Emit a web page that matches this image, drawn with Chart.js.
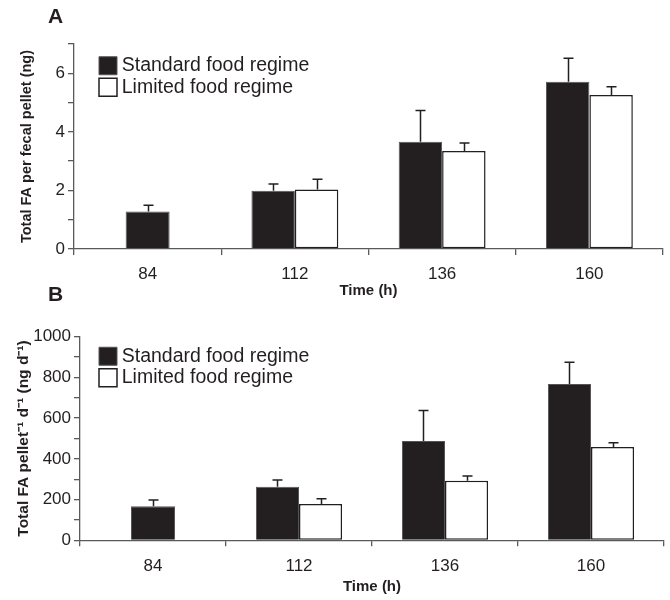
<!DOCTYPE html>
<html>
<head>
<meta charset="utf-8">
<script src="https://cdn.jsdelivr.net/npm/chart.js@4"></script>
<style>
  html, body { margin: 0; padding: 0; background: #ffffff; }
  #wrap { position: relative; width: 670px; height: 600px; overflow: hidden; }
  #wrap canvas { position: absolute; left: 0; }
  #cA { top: 0; }
  #cB { top: 280px; }
</style>
</head>
<body>
<div id="wrap">
  <canvas id="cA" width="670" height="300"></canvas>
  <canvas id="cB" width="670" height="320"></canvas>
</div>
<script>
// ---- data ----
const categories = ['84', '112', '136', '160'];
const seriesNames = ['Standard food regime', 'Limited food regime'];

// Panel A: Total FA per fecal pellet (ng)
const standardA = [1.28, 1.99, 3.66, 5.71];
const standardAErr = [0.21, 0.23, 1.07, 0.80];
const limitedA = [null, 2.03, 3.35, 5.26];
const limitedAErr = [null, 0.35, 0.27, 0.28];

// Panel B: Total FA pellet-1 d-1 (ng d-1)
const standardB = [167, 263, 488, 768];
const standardBErr = [31, 33, 150, 106];
const limitedB = [null, 178, 293, 458];
const limitedBErr = [null, 26, 23, 21];

const yTitleA = 'Total FA per fecal pellet (ng)';
const yTitleB = 'Total FA pellet\u207B\u00B9 d\u207B\u00B9 (ng d\u207B\u00B9)';
const xTitle = 'Time (h)';

// ---- styling ----
const INK = '#231f20';
const AXIS = '#5a5a5a';
Chart.defaults.font.family = "'Liberation Sans', Arial, Helvetica, sans-serif";
Chart.defaults.color = INK;

const errorBars = {
  id: 'errorBars',
  afterDatasetsDraw(chart, args, opts) {
    const ctx = chart.ctx;
    const yScale = chart.scales.y;
    ctx.save();
    ctx.strokeStyle = opts.color || INK;
    ctx.lineWidth = opts.lineWidth || 1.5;
    (opts.errors || []).forEach((errs, di) => {
      const meta = chart.getDatasetMeta(di);
      const data = chart.data.datasets[di].data;
      meta.data.forEach((bar, i) => {
        const v = data[i], e = errs[i];
        if (v == null || e == null) return;
        const yTop = yScale.getPixelForValue(v + e);
        const x = Math.round(bar.x) + 0.5;
        ctx.beginPath();
        ctx.moveTo(x, bar.y);
        ctx.lineTo(x, yTop);
        ctx.moveTo(x - (opts.cap || 5), yTop);
        ctx.lineTo(x + (opts.cap || 5), yTop);
        ctx.stroke();
      });
    });
    ctx.restore();
  }
};

const panelLabel = {
  id: 'panelLabel',
  afterDraw(chart, args, opts) {
    const ctx = chart.ctx;
    ctx.save();
    ctx.font = 'bold 21px ' + Chart.defaults.font.family;
    ctx.fillStyle = INK;
    ctx.textBaseline = 'middle';
    ctx.textAlign = 'left';
    ctx.fillText(opts.text, opts.x, opts.y);
    ctx.restore();
  }
};

// place the in-plot legend relative to the chart area (and let its swatches overhang its box)
const legendShift = {
  id: 'legendShift',
  afterLayout(chart, args, opts) {
    const l = chart.legend;
    if (!l) return;
    const ca = chart.chartArea;
    const w = l.width, h = l.height;
    l.left = ca.left + opts.dx; l.right = l.left + w;
    l.top = ca.top + opts.dy; l.bottom = l.top + h;
    if (typeof l._draw === 'function' && !l.__noClip) {
      l.draw = function () { if (this.options.display) this._draw(); };
      l.__noClip = true;
    }
  }
};

function makeChart(canvasId, cfg) {
  const datasets = [
    { label: seriesNames[0], data: cfg.std, backgroundColor: INK, borderColor: '#555555', borderWidth: 1, borderSkipped: 'start' },
    { label: seriesNames[1], data: cfg.lim, backgroundColor: '#ffffff', borderColor: INK, borderWidth: 1.5, borderSkipped: false }
  ];
  return new Chart(document.getElementById(canvasId), {
    type: 'bar',
    data: { labels: categories, datasets },
    plugins: [errorBars, panelLabel, legendShift],
    options: {
      responsive: false,
      animation: false,
      skipNull: true,
      categoryPercentage: 0.59,
      barPercentage: 1.0,
      maxBarThickness: 44,
      layout: { padding: { top: cfg.padTop, right: cfg.padRight, bottom: 0, left: 0 } },
      plugins: {
        tooltip: { enabled: false },
        title: { display: false },
        legend: {
          position: 'chartArea',
          align: 'start',
          labels: {
            usePointStyle: true,
            pointStyle: 'rect',
            boxHeight: 18,
            boxWidth: 8,
            padding: 2,
            color: INK,
            font: { size: 19.5 }
          }
        },
        legendShift: { dx: cfg.legendDx, dy: cfg.legendDy },
        errorBars: { errors: cfg.errs, color: INK, lineWidth: 1.5, cap: 5 },
        panelLabel: { text: cfg.letter, x: 48, y: cfg.letterY }
      },
      scales: {
        x: {
          offset: true,
          border: { display: true, color: AXIS, width: 1.3 },
          grid: { offset: true, drawOnChartArea: false, drawTicks: true, tickLength: 6, color: AXIS, lineWidth: 1.3 },
          ticks: { color: INK, font: { size: 17, lineHeight: 1 }, padding: cfg.xPad },
          title: { display: true, text: xTitle, color: INK, font: { size: 15, weight: 'bold', lineHeight: 1 }, padding: { top: 0, bottom: cfg.xTitlePadBottom } },
          afterFit(scale) { scale.height = cfg.xHeight; }
        },
        y: {
          min: 0, max: cfg.yMax,
          border: { display: true, color: AXIS, width: 1.3 },
          grid: { drawOnChartArea: false, drawTicks: true, tickLength: 6, color: AXIS, lineWidth: 1.3 },
          ticks: {
            stepSize: cfg.step, color: INK, font: { size: 17, lineHeight: 1 }, padding: 3,
            callback: (v) => (Math.round(v / cfg.step) % 2 === 0 ? String(v) : '')
          },
          title: { display: true, text: cfg.yTitle, color: INK, font: { size: cfg.yTitleSize, weight: 'bold', lineHeight: 1 }, padding: { top: cfg.yTitlePadTop, bottom: 0 } },
          afterFit(scale) { scale.width = cfg.yWidth; }
        }
      }
    }
  });
}

makeChart('cA', {
  std: standardA, lim: limitedA, errs: [standardAErr, limitedAErr],
  yMax: 7, step: 1, yTitle: yTitleA, yTitleSize: 14.5, letter: 'A', letterY: 17,
  padTop: 44, padRight: 7, legendDx: 28, legendDy: 10,
  xHeight: 51, xPad: 11, xTitlePadBottom: 2,
  yWidth: 74, yTitlePadTop: 19.5
});

makeChart('cB', {
  std: standardB, lim: limitedB, errs: [standardBErr, limitedBErr],
  yMax: 1000, step: 100, yTitle: yTitleB, yTitleSize: 15.5, letter: 'B', letterY: 15,
  padTop: 56.7, padRight: 6, legendDx: 22, legendDy: 7.8,
  xHeight: 59.7, xPad: 11.5, xTitlePadBottom: 6,
  yWidth: 80, yTitlePadTop: 15.5
});
</script>
</body>
</html>
